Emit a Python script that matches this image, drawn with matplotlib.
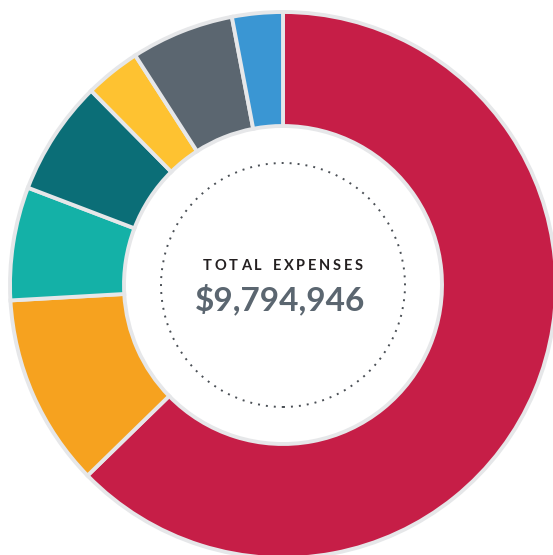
import matplotlib
matplotlib.use("Agg")
import matplotlib.pyplot as plt
from matplotlib.patches import Circle

# Data (shares of total expenses, clockwise from 12 o'clock)
categories = ["Red", "Orange", "Teal", "Dark teal", "Yellow", "Slate", "Blue"]
shares = [62.7, 11.4, 6.7, 6.8, 3.3, 6.1, 3.0]
colors = ["#c61e47", "#f6a21f", "#14b1a7", "#0b6e77", "#fec231", "#5b6670", "#3a96d3"]
title_text = "TOTAL EXPENSES"
total_text = "$9,794,946"

W, H = 553, 555
fig = plt.figure(figsize=(W / 100, H / 100), dpi=100)
ax = fig.add_axes([0, 0, 1, 1])

cx, cy = 283, H - 285
R_out, R_in = 273, 159

ax.pie(shares, colors=colors, startangle=90, counterclock=False,
       radius=R_out, center=(cx, cy),
       wedgeprops=dict(width=R_out - R_in, edgecolor="#e6e7e9", linewidth=2.8))

ax.add_patch(Circle((cx, cy), 122, fill=False, edgecolor="#4a4f55",
                    linewidth=1.4, linestyle=(0, (1, 3.1))))

ax.set_xlim(0, W)
ax.set_ylim(0, H)
ax.set_aspect("auto")
ax.axis("off")

# Letter-spaced title
fig.canvas.draw()
renderer = fig.canvas.get_renderer()
font_kw = dict(family=["Lato", "DejaVu Sans"], fontsize=10.5, color="#231f20", weight="bold")
tracking = 2.8  # px
widths = []
for ch in title_text:
    t = ax.text(0, 0, ch if ch != " " else "I", **font_kw)
    w = t.get_window_extent(renderer).width
    if ch == " ":
        w *= 1.3
    widths.append(w)
    t.remove()
total_w = sum(widths) + tracking * (len(title_text) - 1)
x = cx - total_w / 2
ty = H - 266
for ch, w in zip(title_text, widths):
    if ch != " ":
        ax.text(x, ty, ch, ha="left", va="center", **font_kw)
    x += w + tracking

ax.text(cx - 2.5, H - 299, total_text, ha="center", va="center",
        family=["Lato", "DejaVu Sans"], fontsize=24, weight="bold", color="#5b6670")

fig.savefig("out.png", dpi=100, facecolor="white")
